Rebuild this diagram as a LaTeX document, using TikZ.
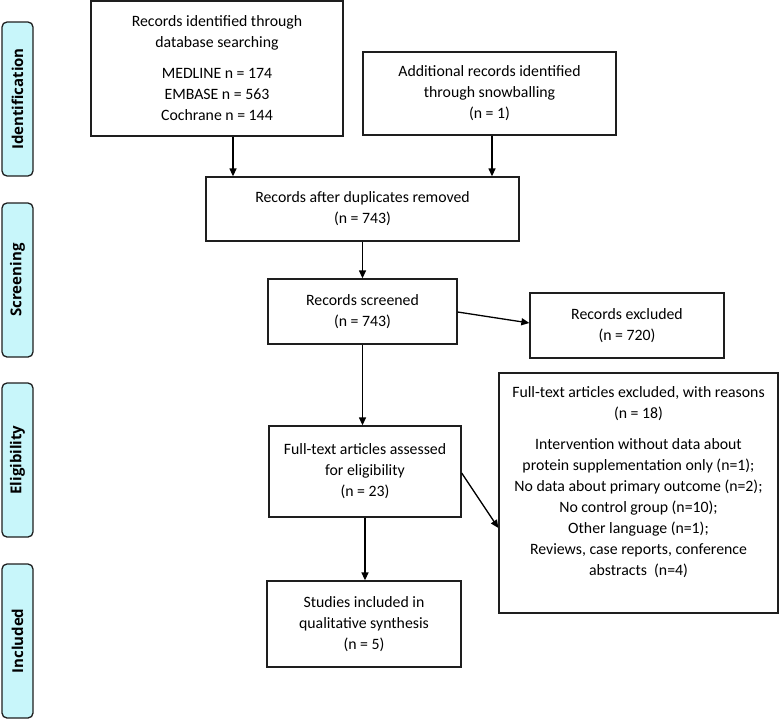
\documentclass[tikz,border=0pt]{standalone}
\usepackage{fontspec}
\setmainfont{Carlito}
\newfontfamily\sidefont{Open Sans}
\usetikzlibrary{arrows.meta,calc}
\definecolor{sidefill}{RGB}{200,246,250}
\definecolor{linec}{RGB}{30,30,30}
\begin{document}
\begin{tikzpicture}[x=1pt,y=-1pt,
  box/.style={draw=linec,line width=1.3pt,fill=white,inner sep=0pt,align=center,
    font=\fontsize{15.8}{21}\selectfont,text=black},
  side/.style={draw=linec,line width=1.3pt,fill=sidefill,rounded corners=5pt,
    inner sep=0pt,rotate=90,
    font=\sidefont\bfseries\fontsize{15}{16}\selectfont},
  arr/.style={draw=black,line width=1.3pt,-{Triangle[length=8pt,width=7pt]}},
  plain/.style={inner sep=0pt,align=center,font=\fontsize{15.8}{21}\selectfont}]
\useasboundingbox (0,0) rectangle (779,720);
% side labels (rotated: minimum width runs along the page y)
\node[side,minimum width=154pt,minimum height=31pt] (sid) at (17.5,99) {Identification};
\node[side,minimum width=154pt,minimum height=31pt] (sscr) at (17.5,280) {Screening};
\node[side,minimum width=154pt,minimum height=31pt] (seli) at (17.5,460) {Eligibility};
\node[side,minimum width=154pt,minimum height=31pt] (sinc) at (17.5,641) {Included};
% boxes
\node[box,minimum width=252pt,minimum height=135pt] (db) at (217,68.5)
  {Records identified through\\database searching\\[10pt]MEDLINE n = 174\\EMBASE n = 563\\Cochrane n = 144};
\node[box,minimum width=253pt,minimum height=83pt] (add) at (489.5,93.5)
  {Additional records identified\\through snowballing\\(n = 1)};
\node[box,minimum width=313pt,minimum height=64pt] (dup) at (362.5,209)
  {Records after duplicates removed\\(n = 743)};
\node[box,minimum width=189pt,minimum height=65pt] (scr) at (362.5,311.5)
  {Records screened\\(n = 743)};
\node[box,minimum width=194pt,minimum height=65pt] (exc) at (627,325.5)
  {Records excluded\\(n = 720)};
\node[box,minimum width=192pt,minimum height=91pt] (fta) at (365,471.5)
  {Full-text articles assessed\\for eligibility\\(n = 23)};
\node[box,minimum width=194pt,minimum height=86pt] (inc) at (364,624)
  {Studies included in\\qualitative synthesis\\(n = 5)};
\node[box,minimum width=279pt,minimum height=240pt] (fte) at (638.5,493) {};
\node[plain,anchor=north] (ftetext) at ([yshift=-14pt]fte.north)
  {Full-text articles excluded, with reasons\\(n = 18)\\[10pt]Intervention without data about\\protein supplementation only (n=1);\\No data about primary outcome (n=2);\\No control group (n=10);\\Other language (n=1);\\Reviews, case reports, conference\\abstracts~~(n=4)};
% connectors
\draw[arr] ([xshift=16pt]db.south) -- ([xshift=16pt]db.south |- dup.north);
\draw[arr] ([xshift=2.5pt]add.south) -- ([xshift=2.5pt]add.south |- dup.north);
\draw[arr] (dup.south) -- (dup.south |- scr.north);
\draw[arr] (scr.south) -- (scr.south |- fta.north);
\draw[arr] (fta.south) -- (fta.south |- inc.north);
\draw[arr] ([yshift=-0.5pt]scr.east) -- ([yshift=2.5pt]exc.west);
\draw[arr] ([yshift=-1.5pt]fta.east) -- ([yshift=-35pt]fte.west);
\end{tikzpicture}
\end{document}
